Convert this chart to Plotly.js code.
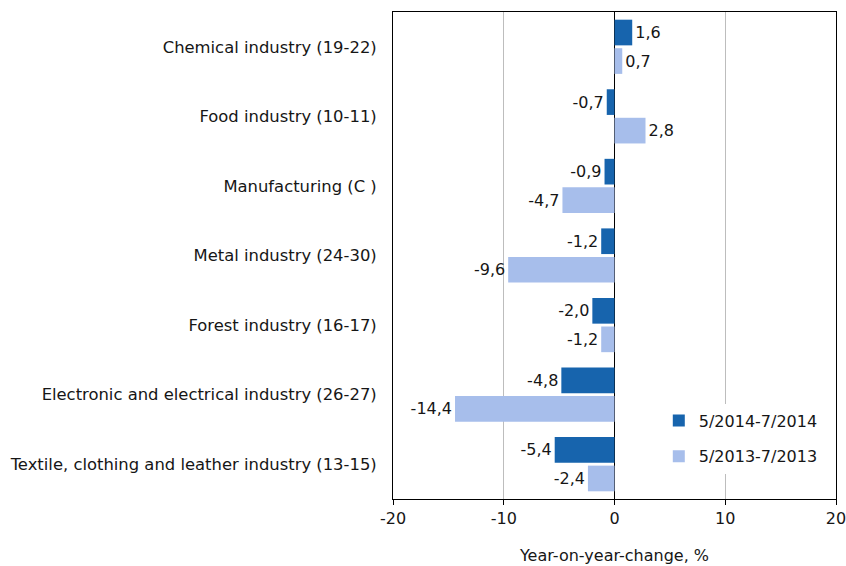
<!DOCTYPE html>
<html>
<head>
<meta charset="utf-8">
<script src="https://cdn.plot.ly/plotly-3.0.1.min.js"></script>
<style>html,body{margin:0;padding:0;background:#fff}#chart{width:846px;height:566px}</style>
</head>
<body>
<div id="chart"></div>
<script>
const categories = [
  "Chemical industry (19-22)",
  "Food industry (10-11)",
  "Manufacturing (C )",
  "Metal industry (24-30)",
  "Forest industry (16-17)",
  "Electronic and electrical industry (26-27)",
  "Textile, clothing and leather industry (13-15)"
];
const series2014 = [1.6, -0.7, -0.9, -1.2, -2.0, -4.8, -5.4];
const series2013 = [0.7, 2.8, -4.7, -9.6, -1.2, -14.4, -2.4];
const seriesNames = ["5/2014-7/2014", "5/2013-7/2013"];
const tickValues = [-20, -10, 0, 10, 20];
const tickLabels = ["-20", "-10", "0", "10", "20"];

const fmt = v => v.toFixed(1).replace('.', ',');
const FONT = "DejaVu Sans, Verdana, sans-serif";
const INK = "#161616";
const textFont = {family: FONT, size: 16, color: INK};

const traces = [
  {
    type: "bar", orientation: "h", name: seriesNames[0], legendgroup: "a",
    y: categories, x: series2014, text: series2014.map(fmt),
    textposition: "outside", textfont: textFont, cliponaxis: false,
    marker: {color: "#1764AD"}, hoverinfo: "none"
  },
  {
    type: "bar", orientation: "h", name: seriesNames[1], legendgroup: "b",
    y: categories, x: series2013, text: series2013.map(fmt),
    textposition: "outside", textfont: textFont, cliponaxis: false,
    marker: {color: "#A7BEEB"}, hoverinfo: "none"
  }
];

const layout = {
  width: 846, height: 566,
  margin: {l: 393, r: 10, t: 12, b: 67},
  paper_bgcolor: "#fff", plot_bgcolor: "#fff",
  font: {family: FONT, size: 16, color: INK},
  barmode: "group", bargap: 0.18, bargroupgap: 0.1,
  showlegend: true,
  legend: {
    x: 0.6, y: 0.196, xanchor: "left", yanchor: "top",
    bgcolor: "#fff", borderwidth: 0, traceorder: "grouped", tracegroupgap: 12,
    font: {family: FONT, size: 16, color: INK}, itemwidth: 30
  },
  xaxis: {
    range: [-20, 20], tickvals: tickValues, ticktext: tickLabels,
    ticklabeloverflow: "allow",
    showgrid: true, gridcolor: "#bdbdbd", gridwidth: 1,
    zeroline: true, zerolinecolor: "#000", zerolinewidth: 1,
    showline: true, linecolor: "#000", linewidth: 1, mirror: true,
    ticks: "outside", ticklen: 5, tickcolor: "#000",
    tickfont: {family: FONT, size: 16, color: INK},
    title: {text: "Year-on-year-change, %", font: {family: FONT, size: 16, color: INK}, standoff: 22},
    fixedrange: true
  },
  yaxis: {
    type: "category", autorange: "reversed",
    showgrid: false, zeroline: false,
    showline: true, linecolor: "#000", linewidth: 1, mirror: true,
    ticks: "", ticklabelstandoff: 12,
    tickfont: {family: FONT, size: 16.4, color: INK},
    fixedrange: true
  }
};

Plotly.newPlot("chart", traces, layout, {displayModeBar: false, staticPlot: true});
</script>
</body>
</html>
